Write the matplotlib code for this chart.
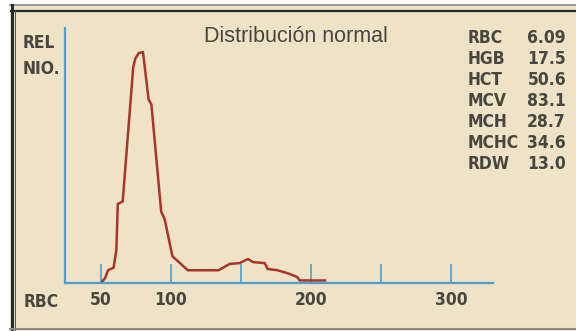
import matplotlib
matplotlib.use("Agg")
import matplotlib.pyplot as plt
from matplotlib.lines import Line2D
from matplotlib.patches import Rectangle

# histograma de volumen de glóbulos rojos
volumen = [50, 53, 55, 59, 61, 62, 65.5, 73, 74.5, 77, 80, 84, 86, 93, 95.5,
           101, 104, 112, 134, 142, 149, 155, 158.5, 167, 169, 176, 183, 190,
           192, 210]
frecuencia = [0, 2, 5, 6, 13, 31, 32, 84.5, 88, 90.2, 90.5, 72, 70, 28, 25,
              10.5, 9, 5, 5, 7.5, 7.8, 9.4, 8.2, 7.8, 5.5, 5, 3.9, 2.4,
              1, 1]

ticks_x = [50, 100, 150, 200, 250, 300]
etiquetas_x = ["50", "100", "", "200", "", "300"]

parametros = ["RBC", "HGB", "HCT", "MCV", "MCH", "MCHC", "RDW"]
valores = ["6.09", "17.5", "50.6", "83.1", "28.7", "34.6", "13.0"]

W, H = 576, 331
fondo = "#eee3c6"
texto = "#47463f"
azul = "#4d9fd1"
rojo = "#a8352c"

estrecha = dict(family="DejaVu Sans", fontstretch="condensed", fontweight="bold")

def fx(px):
    return px / W

def fy(py):
    return 1 - py / H

fig = plt.figure(figsize=(W / 100, H / 100), dpi=100)
fig.patch.set_facecolor("white")

# marco
fig.add_artist(Rectangle((fx(10), 0), 1, fy(5), transform=fig.transFigure,
                         facecolor=fondo, edgecolor="none", zorder=0))
fig.add_artist(Line2D([fx(10), 1], [fy(5), fy(5)], transform=fig.transFigure,
                      color="#8a8a86", lw=1.2))
fig.add_artist(Line2D([fx(11), 1], [fy(10.5), fy(10.5)], transform=fig.transFigure,
                      color="#2a2a26", lw=1.6))
fig.add_artist(Line2D([fx(11.5), fx(11.5)], [0, fy(5)], transform=fig.transFigure,
                      color="#2a2a26", lw=2.2))
fig.add_artist(Line2D([fx(15), fx(15)], [0, fy(10.5)], transform=fig.transFigure,
                      color="#55534c", lw=0.7))
fig.add_artist(Line2D([fx(10), 1], [fy(329), fy(329)], transform=fig.transFigure,
                      color="#8a8a86", lw=1.5))

ax = fig.add_axes([fx(65), fy(283), (493 - 65) / W, (283 - 28) / H])
ax.patch.set_alpha(0)
ax.plot(volumen, frecuencia, color=rojo, lw=1.8, solid_joinstyle="miter")
ax.set_xlim(24.3, 330)
ax.set_ylim(0, 100)

for s in ["top", "right"]:
    ax.spines[s].set_visible(False)
for s in ["left", "bottom"]:
    ax.spines[s].set_color(azul)
    ax.spines[s].set_linewidth(1.6)

ax.set_xticks(ticks_x)
ax.set_xticklabels(etiquetas_x, fontsize=12.5, color=texto, **estrecha)
ax.tick_params(axis="x", direction="in", length=13.5, width=1.2, color=azul, pad=6)
ax.set_yticks([])

fig.text(fx(24), fy(302), "RBC", fontsize=12.5, color=texto, ha="left", va="center", **estrecha)
fig.text(fx(23), fy(43), "REL", fontsize=12.5, color=texto, ha="left", va="center", **estrecha)
fig.text(fx(23), fy(69), "NIO.", fontsize=12.5, color=texto, ha="left", va="center", **estrecha)
fig.text(fx(296), fy(37), "Distribución normal", family="Liberation Sans",
         fontsize=15.5, color=texto, ha="center", va="center")

for i, (p, v) in enumerate(zip(parametros, valores)):
    y = 38 + i * 21
    fig.text(fx(468), fy(y), p, fontsize=12.5, color=texto, ha="left", va="center", **estrecha)
    fig.text(fx(566), fy(y), v, fontsize=12.5, color=texto, ha="right", va="center", **estrecha)

fig.savefig("out.png", dpi=100)
